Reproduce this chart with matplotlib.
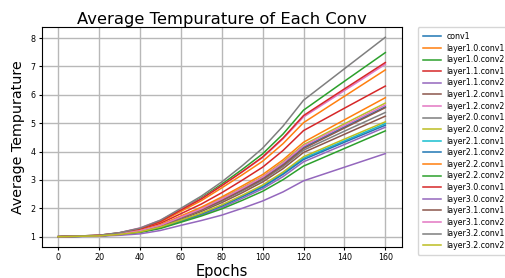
import matplotlib
matplotlib.use("Agg")
import matplotlib.pyplot as plt

epochs = [0, 20, 30, 40, 50, 60, 70, 80, 90, 100, 110, 120, 140, 160]

layer_names = ["conv1",
               "layer1.0.conv1", "layer1.0.conv2",
               "layer1.1.conv1", "layer1.1.conv2",
               "layer1.2.conv1", "layer1.2.conv2",
               "layer2.0.conv1", "layer2.0.conv2",
               "layer2.1.conv1", "layer2.1.conv2",
               "layer2.2.conv1", "layer2.2.conv2",
               "layer3.0.conv1", "layer3.0.conv2",
               "layer3.1.conv1", "layer3.1.conv2",
               "layer3.2.conv1", "layer3.2.conv2"]

conv1 = [1.00, 1.03, 1.09, 1.20, 1.39, 1.68, 1.96, 2.30, 2.67, 3.06, 3.56, 4.15, 4.87, 5.58]
layer1_0_conv1 = [1.00, 1.04, 1.13, 1.27, 1.52, 1.89, 2.27, 2.72, 3.18, 3.66, 4.28, 5.02, 5.95, 6.88]
layer1_0_conv2 = [1.00, 1.05, 1.14, 1.29, 1.56, 1.96, 2.37, 2.85, 3.37, 3.92, 4.62, 5.46, 6.48, 7.49]
layer1_1_conv1 = [1.00, 1.04, 1.11, 1.24, 1.47, 1.81, 2.15, 2.55, 2.99, 3.45, 4.04, 4.74, 5.53, 6.31]
layer1_1_conv2 = [1.00, 1.03, 1.08, 1.16, 1.31, 1.54, 1.76, 2.03, 2.35, 2.69, 3.12, 3.64, 4.25, 4.86]
layer1_2_conv1 = [1.00, 1.03, 1.09, 1.19, 1.36, 1.62, 1.89, 2.20, 2.55, 2.93, 3.40, 3.97, 4.61, 5.25]
layer1_2_conv2 = [1.00, 1.05, 1.14, 1.31, 1.58, 1.96, 2.34, 2.80, 3.28, 3.79, 4.45, 5.22, 6.15, 7.08]
layer2_0_conv1 = [1.00, 1.03, 1.09, 1.19, 1.38, 1.65, 1.93, 2.25, 2.61, 2.99, 3.47, 4.05, 4.72, 5.38]
layer2_0_conv2 = [1.00, 1.04, 1.10, 1.21, 1.41, 1.70, 2.00, 2.35, 2.73, 3.12, 3.64, 4.24, 4.98, 5.71]
layer2_1_conv1 = [1.00, 1.03, 1.08, 1.17, 1.33, 1.57, 1.81, 2.10, 2.43, 2.78, 3.24, 3.77, 4.38, 4.99]
layer2_1_conv2 = [1.00, 1.03, 1.08, 1.17, 1.32, 1.56, 1.80, 2.08, 2.41, 2.75, 3.20, 3.72, 4.33, 4.93]
layer2_2_conv1 = [1.00, 1.04, 1.10, 1.22, 1.42, 1.73, 2.04, 2.40, 2.79, 3.19, 3.71, 4.33, 5.12, 5.90]
layer2_2_conv2 = [1.00, 1.03, 1.07, 1.15, 1.29, 1.51, 1.73, 1.98, 2.28, 2.60, 3.01, 3.49, 4.11, 4.73]
layer3_0_conv1 = [1.00, 1.05, 1.13, 1.28, 1.54, 1.94, 2.33, 2.80, 3.29, 3.81, 4.48, 5.27, 6.21, 7.14]
layer3_0_conv2 = [1.00, 1.02, 1.05, 1.10, 1.22, 1.40, 1.57, 1.76, 2.00, 2.26, 2.58, 2.97, 3.45, 3.93]
layer3_1_conv1 = [1.00, 1.03, 1.09, 1.20, 1.38, 1.67, 1.95, 2.28, 2.65, 3.03, 3.52, 4.11, 4.83, 5.55]
layer3_1_conv2 = [1.00, 1.03, 1.10, 1.21, 1.40, 1.69, 1.98, 2.33, 2.70, 3.10, 3.60, 4.20, 4.92, 5.64]
layer3_2_conv1 = [1.00, 1.05, 1.14, 1.30, 1.58, 2.00, 2.43, 2.93, 3.50, 4.12, 4.90, 5.81, 6.92, 8.03]
layer3_2_conv2 = [1.00, 1.03, 1.08, 1.17, 1.34, 1.58, 1.83, 2.12, 2.46, 2.82, 3.28, 3.82, 4.44, 5.05]

temps = [conv1,
         layer1_0_conv1, layer1_0_conv2,
         layer1_1_conv1, layer1_1_conv2,
         layer1_2_conv1, layer1_2_conv2,
         layer2_0_conv1, layer2_0_conv2,
         layer2_1_conv1, layer2_1_conv2,
         layer2_2_conv1, layer2_2_conv2,
         layer3_0_conv1, layer3_0_conv2,
         layer3_1_conv1, layer3_1_conv2,
         layer3_2_conv1, layer3_2_conv2]

fig = plt.figure(figsize=(5.05, 2.78), dpi=100)
ax = fig.add_axes([0.0826, 0.1126, 0.7128, 0.7892])

for name, t in zip(layer_names, temps):
    ax.plot(epochs, t, label=name, linewidth=1.1)

ax.grid(True, color="#b8b8b8", linewidth=1.0)
ax.set_axisbelow(True)
ax.set_title("Average Tempurature of Each Conv", fontsize=11.8, pad=2)
ax.set_xlabel("Epochs", fontsize=10.5, labelpad=1.2)
ax.set_ylabel("Average Tempurature", fontsize=10.3, labelpad=4)
ax.tick_params(labelsize=5.8, length=2.5, pad=2)
ax.legend(loc="upper left", bbox_to_anchor=(1.045, 1.0), fontsize=5.7,
          borderaxespad=0, borderpad=0.6, handlelength=2.3, handletextpad=0.7,
          labelspacing=0.33)

fig.savefig("out.png", dpi=100)
